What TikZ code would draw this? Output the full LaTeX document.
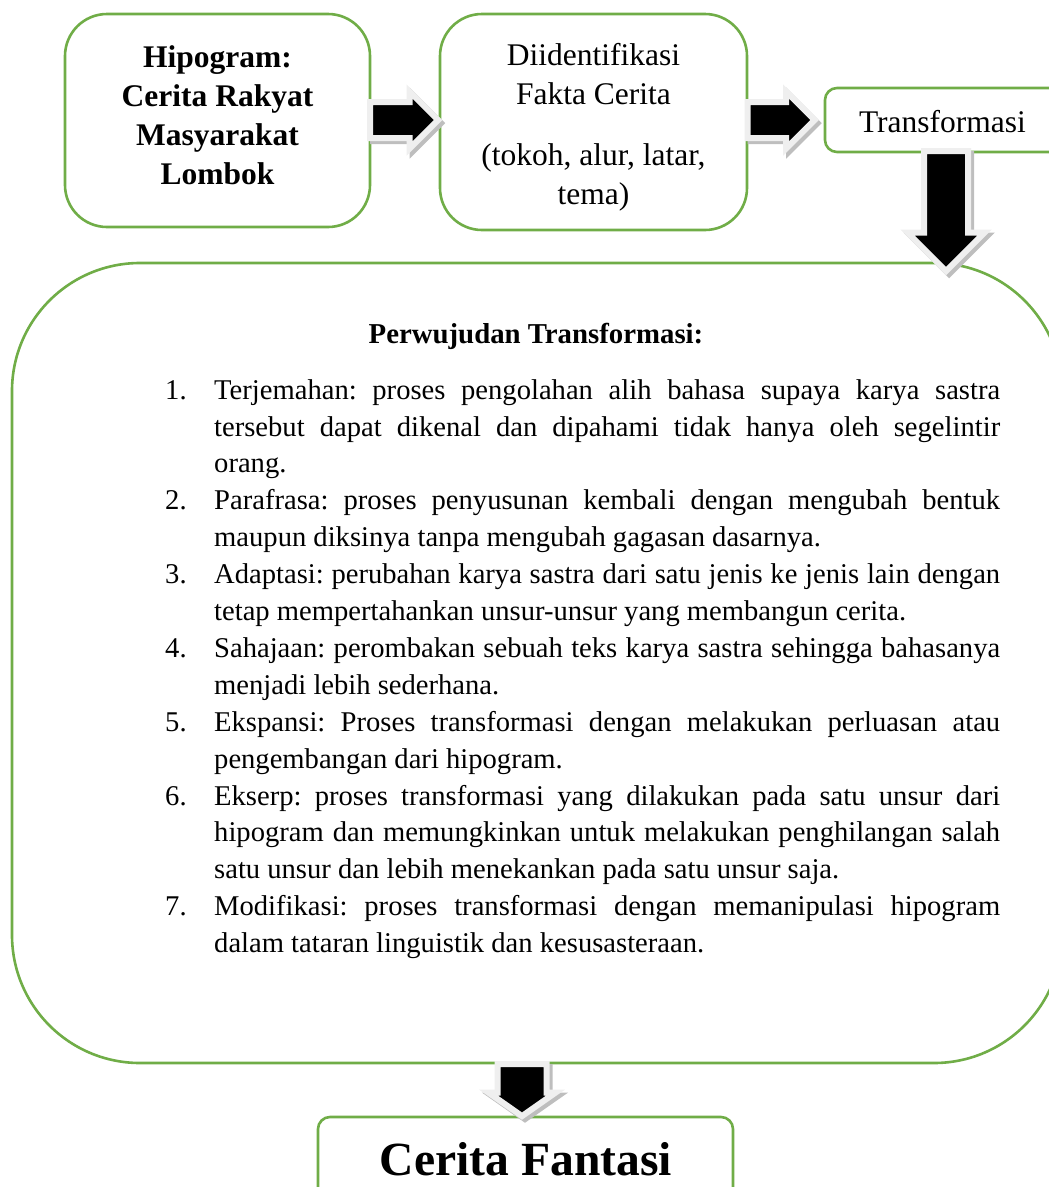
\documentclass[tikz,border=0pt]{standalone}
\usepackage{fontspec}
\setmainfont{Liberation Serif}
\usetikzlibrary{shapes.arrows,shadows}
\definecolor{boxgreen}{HTML}{70AD47}
\definecolor{arrowedge}{HTML}{EFEFEF}
\definecolor{arrowshade}{HTML}{BEBEBE}
\newcommand\ujuditem[1]{\par\noindent\hangindent=49pt\hangafter=1\makebox[49pt][l]{#1}}
\begin{document}
\begin{tikzpicture}[x=1pt,y=-1pt,
	greenbox/.style={draw=boxgreen,line width=2.6pt,fill=white},
	toptext/.style={font=\fontsize{31.5}{39}\selectfont,align=center,inner sep=0pt},
	blockarr/.style={single arrow,fill=black,draw=arrowedge,line width=6pt,single arrow tip angle=90,
		drop shadow={shadow xshift=3pt,shadow yshift=-3pt,fill=arrowshade,draw=arrowshade,line width=6pt,opacity=1}}]
	\useasboundingbox (0,0) rectangle (1049,1187);
	\clip (0,0) rectangle (1049,1187);
	\node[greenbox,rounded corners=42,minimum width=305,minimum height=213] (hipo) at (217.5,120.5) {};
	\node[greenbox,rounded corners=42,minimum width=307,minimum height=216] (fakta) at (593.5,122) {};
	\node[greenbox,rounded corners=12,minimum width=245,minimum height=64] (trans) at (947.5,120) {};
	\node[greenbox,rounded corners=128,minimum width=1050,minimum height=800] (ujud) at (537,663) {};
	\node[greenbox,rounded corners=12,minimum width=415,minimum height=100] (fantasi) at (525.5,1167) {};
	\node[toptext] (hipotext) at (217.5,115) {\bfseries Hipogram:\\\bfseries Cerita Rakyat\\\bfseries Masyarakat\\\bfseries Lombok};
	\node[toptext] (faktatext) at (593.5,74) {Diidentifikasi\\Fakta Cerita};
	\node[toptext] (unsurtext) at (593.5,177.5) {(tokoh, alur, latar,\\tema)};
	\node[toptext,anchor=base] (transtext) at (942.5,132) {Transformasi};
	\node[font=\fontsize{28.8}{36.9}\selectfont\bfseries,inner sep=0pt,anchor=base] (ujudtitle) at (536,343) {Perwujudan Transformasi:};
	\node[font=\fontsize{28.6}{36.9}\selectfont,text width=835,align=justify,inner sep=0pt,anchor=north west] (ujudlist) at (165,362) {%
		\frenchspacing\hyphenpenalty=10000\exhyphenpenalty=10000\tolerance=10000
		\ujuditem{1.}Terjemahan: proses pengolahan alih bahasa supaya karya sastra\linebreak tersebut dapat dikenal dan dipahami tidak hanya oleh segelintir\linebreak orang.
		\ujuditem{2.}Parafrasa: proses penyusunan kembali dengan mengubah bentuk\linebreak maupun diksinya tanpa mengubah gagasan dasarnya.
		\ujuditem{3.}Adaptasi: perubahan karya sastra dari satu jenis ke jenis lain dengan\linebreak tetap mempertahankan unsur-unsur yang membangun cerita.
		\ujuditem{4.}Sahajaan: perombakan sebuah teks karya sastra sehingga bahasanya\linebreak menjadi lebih sederhana.
		\ujuditem{5.}Ekspansi: Proses transformasi dengan melakukan perluasan atau\linebreak pengembangan dari hipogram.
		\ujuditem{6.}Ekserp: proses transformasi yang dilakukan pada satu unsur dari\linebreak hipogram dan memungkinkan untuk melakukan penghilangan salah\linebreak satu unsur dan lebih menekankan pada satu unsur saja.
		\ujuditem{7.}Modifikasi: proses transformasi dengan memanipulasi hipogram\linebreak dalam tataran linguistik dan kesusasteraan.\par};
	\node[font=\fontsize{47.6}{56}\selectfont\bfseries,inner sep=0pt,anchor=base] (fantasitext) at (526,1175) {Cerita Fantasi};
	\node[blockarr,minimum height=68,inner xsep=2,inner ysep=15,single arrow head extend=10.5] (arr1) at (395,120) {};
	\node[blockarr,minimum height=67,inner xsep=2,inner ysep=15,single arrow head extend=10.5] (arr2) at (772,120) {};
	\node[blockarr,shape border rotate=270,minimum height=120,inner xsep=19,inner ysep=2,single arrow head extend=16.5] (arr3) at (946,200) {};
	\node[blockarr,shape border rotate=270,minimum height=52,inner xsep=21.5,inner ysep=2,single arrow head extend=9,single arrow tip angle=110] (arr4) at (522,1081.5) {};
\end{tikzpicture}
\end{document}
